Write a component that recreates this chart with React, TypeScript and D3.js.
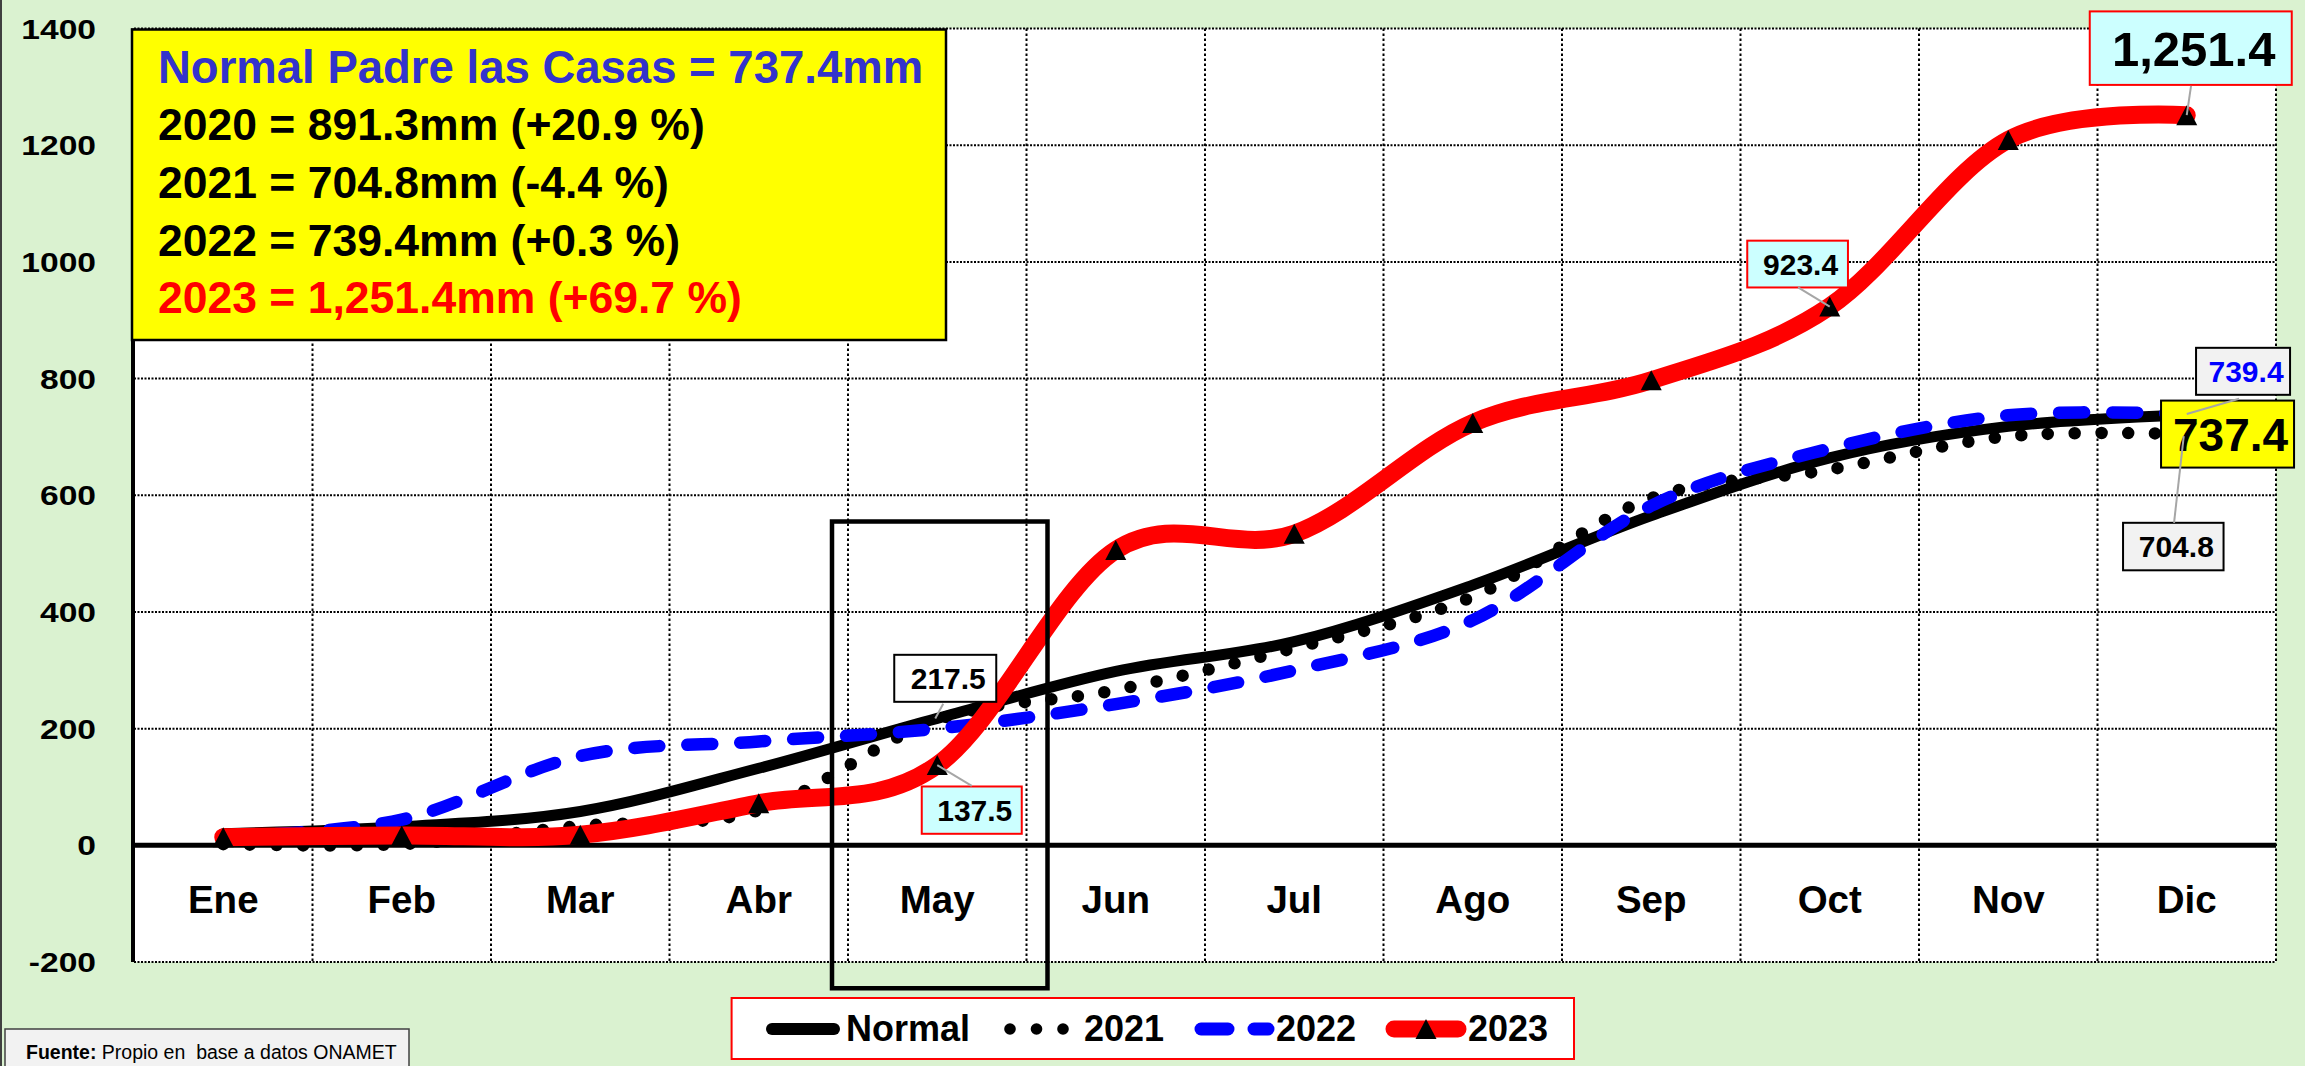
import React from 'react';
import * as d3 from 'd3';

const months = ['Ene', 'Feb', 'Mar', 'Abr', 'May', 'Jun', 'Jul', 'Ago', 'Sep', 'Oct', 'Nov', 'Dic'];
const normal = [20, 32, 58, 132, 217.5, 298, 349, 446, 565, 664, 718, 737.4];
const y2021 = [2, 2, 33, 60, 215, 266, 338, 426, 595, 644, 701, 704.8];
const y2022 = [15, 44, 153, 178, 200, 242, 300, 386, 582, 680, 737, 739.4];
const y2023 = [14, 17, 18, 72, 137.5, 506, 534, 724, 797, 923.4, 1209, 1251.4];
const yTicks = [-200, 0, 200, 400, 600, 800, 1000, 1200, 1400];
const infoLines = [
  { text: 'Normal Padre las Casas = 737.4mm', color: '#3333CC' },
  { text: '2020 = 891.3mm (+20.9 %)', color: '#000000' },
  { text: '2021 = 704.8mm (-4.4 %)', color: '#000000' },
  { text: '2022 = 739.4mm (+0.3 %)', color: '#000000' },
  { text: '2023 = 1,251.4mm (+69.7 %)', color: '#FF0000' },
];
const legendNames = ['Normal', '2021', '2022', '2023'];

const W = 2305;
const H = 1066;
const FONT = '"Liberation Sans", Arial, sans-serif';
const PL = 134, PR = 2276, PT = 28.5, PB = 962;

const x = d3.scaleBand<string>().domain(months).range([PL, PR]).paddingInner(0).paddingOuter(0);
const bw = x.bandwidth();
const cx = (i: number) => (x(months[i]) as number) + bw / 2;
const y = d3.scaleLinear().domain([-200, 1400]).range([PB, PT]);

const line = d3
  .line<number>()
  .x((_, i) => cx(i))
  .y((v) => y(v))
  .curve(d3.curveCardinal.tension(0));

const tri = 'M0,-10 L10.5,10 L-10.5,10 Z';

type Ann = {
  text: string;
  vals: number[];
  i: number;
  box: [number, number, number, number];
  fs: number;
  fill: string;
  stroke: string;
  color: string;
  leader?: [[number, number], [number, number]];
};

const anns: Ann[] = [
  { text: '217.5', vals: normal, i: 4, box: [-43, -63.6, 102, 47], fs: 30, fill: '#FFFFFF', stroke: '#000', color: '#000', leader: [[6, -14.6], [-2, 0]] },
  { text: '137.5', vals: y2023, i: 4, box: [-15.5, 21.4, 100, 47.3], fs: 30, fill: '#CCFFFF', stroke: '#FF0000', color: '#000', leader: [[0, 0], [34.5, 20.7]] },
  { text: '923.4', vals: y2023, i: 9, box: [-82.5, -65.9, 100.7, 46.8], fs: 30, fill: '#CCFFFF', stroke: '#FF0000', color: '#000', leader: [[-31.7, -19.1], [0, 0]] },
  { text: '1,251.4', vals: y2023, i: 11, box: [-97, -103.8, 202, 73.5], fs: 49, fill: '#CCFFFF', stroke: '#FF0000', color: '#000', leader: [[4.3, -29.3], [0, 0]] },
  { text: '739.4', vals: y2022, i: 11, box: [9.3, -66.1, 94, 47], fs: 30, fill: '#F2F2F2', stroke: '#000', color: '#0000FF', leader: [[52.3, -15.1], [0, 0]] },
  { text: '737.4', vals: normal, i: 11, box: [-25.7, -14.5, 133, 67], fs: 46, fill: '#FFFF00', stroke: '#000', color: '#000' },
  { text: '704.8', vals: y2021, i: 11, box: [-63.7, 88.7, 100.5, 47.5], fs: 30, fill: '#F2F2F2', stroke: '#000', color: '#000', leader: [[-12.7, 88.7], [-3, 2]] },
];

export default function App() {
  const hGrid = yTicks.filter((t) => t !== 0);
  const vGrid = months.slice(1).map((m) => x(m) as number).concat([PR]);
  const z = y(0);
  const mayX0 = (x('May') as number) - 16;
  const mayX1 = (x('May') as number) + bw + 21;

  return (
    <svg
      width={W}
      height={H}
      viewBox={`0 0 ${W} ${H}`}
      style={{ position: 'absolute', left: 0, top: 0, display: 'block', fontFamily: FONT }}
    >
      <rect x={0} y={0} width={W} height={H} fill="#DAF2D0" />
      <line x1={1} y1={0} x2={1} y2={H} stroke="#404040" strokeWidth={2} />
      <rect x={PL} y={PT} width={PR - PL} height={PB - PT} fill="#FFFFFF" />

      {/* gridlines */}
      {hGrid.map((t) => (
        <line key={'h' + t} x1={PL} x2={PR} y1={y(t)} y2={y(t)} stroke="#000" strokeWidth={2} strokeDasharray="2 1.5" />
      ))}
      {vGrid.map((gx, k) => (
        <line key={'v' + k} x1={gx} x2={gx} y1={PT} y2={PB} stroke="#000" strokeWidth={2} strokeDasharray="2.5 2.5" />
      ))}

      {/* axes */}
      <line x1={PL} x2={PR} y1={z} y2={z} stroke="#000" strokeWidth={5} />
      <line x1={PL - 1} x2={PL - 1} y1={PT} y2={PB} stroke="#000" strokeWidth={4} />

      {/* y tick labels */}
      {yTicks.map((t) => (
        <g key={'yt' + t} transform={`translate(96,${y(t) + 10})`}>
          <text transform="scale(1.2,1)" textAnchor="end" fontSize={28} fontWeight="bold" fill="#000">
            {t}
          </text>
        </g>
      ))}

      {/* month labels */}
      {months.map((m, i) => (
        <text key={m} x={cx(i)} y={913} textAnchor="middle" fontSize={38.5} fontWeight="bold" fill="#000">
          {m}
        </text>
      ))}

      {/* series */}
      <path d={line(normal) || ''} fill="none" stroke="#000" strokeWidth={11} strokeLinecap="round" />
      <path d={line(y2021) || ''} fill="none" stroke="#000" strokeWidth={12.5} strokeLinecap="round" strokeDasharray="0 26.7" />
      <path d={line(y2022) || ''} fill="none" stroke="#0000FF" strokeWidth={12.5} strokeLinecap="round" strokeDasharray="25 28" />
      <path d={line(y2023) || ''} fill="none" stroke="#FF0000" strokeWidth={18} strokeLinecap="round" />
      {y2023.map((v, i) => (
        <path key={'m' + i} d={tri} transform={`translate(${cx(i)},${y(v)})`} fill="#000" />
      ))}

      {/* May highlight box */}
      <rect x={mayX0} y={y(555)} width={mayX1 - mayX0} height={y(-245) - y(555)} fill="none" stroke="#000" strokeWidth={4.5} />

      {/* data labels */}
      {anns.map((a, k) => {
        const px = cx(a.i);
        const py = y(a.vals[a.i]);
        const [bx, by, bwid, bh] = a.box;
        return (
          <g key={'a' + k}>
            <rect x={px + bx} y={py + by} width={bwid} height={bh} fill={a.fill} stroke={a.stroke} strokeWidth={2} />
            <text
              x={px + bx + bwid / 2 + 3}
              y={py + by + bh / 2 + a.fs * 0.36}
              textAnchor="middle"
              fontSize={a.fs}
              fontWeight="bold"
              fill={a.color}
            >
              {a.text}
            </text>
          </g>
        );
      })}
      {anns
        .filter((a) => a.leader)
        .map((a, k) => {
          const px = cx(a.i);
          const py = y(a.vals[a.i]);
          const [[x1, y1], [x2, y2]] = a.leader!;
          return <line key={'l' + k} x1={px + x1} y1={py + y1} x2={px + x2} y2={py + y2} stroke="#A6A6A6" strokeWidth={2} />;
        })}

      {/* info box */}
      <rect x={132} y={29.5} width={814} height={310.5} fill="#FFFF00" stroke="#000" strokeWidth={2.5} />
      {infoLines.map((l, k) => (
        <text key={'info' + k} x={158} y={82.5 + k * 57.7} fontSize={k === 0 ? 45.5 : 44.5} fontWeight="bold" fill={l.color}>
          {l.text}
        </text>
      ))}

      {/* legend */}
      <rect x={731.6} y={998} width={842.4} height={61} fill="#FFFFFF" stroke="#FF0000" strokeWidth={2} />
      <line x1={772} x2={834} y1={1029} y2={1029} stroke="#000" strokeWidth={12} strokeLinecap="round" />
      <text x={846} y={1040.5} fontSize={36} fontWeight="bold">{legendNames[0]}</text>
      {[1010, 1036.5, 1063].map((dx, k) => (
        <circle key={'ld' + k} cx={dx} cy={1029} r={5.8} fill="#000" />
      ))}
      <text x={1084} y={1040.5} fontSize={36} fontWeight="bold">{legendNames[1]}</text>
      <line x1={1201} x2={1228} y1={1029} y2={1029} stroke="#0000FF" strokeWidth={13} strokeLinecap="round" />
      <line x1={1254} x2={1268} y1={1029} y2={1029} stroke="#0000FF" strokeWidth={13} strokeLinecap="round" />
      <text x={1276} y={1040.5} fontSize={36} fontWeight="bold">{legendNames[2]}</text>
      <line x1={1394} x2={1458} y1={1029} y2={1029} stroke="#FF0000" strokeWidth={17} strokeLinecap="round" />
      <path d={tri} transform="translate(1426,1029)" fill="#000" />
      <text x={1468} y={1040.5} fontSize={36} fontWeight="bold">{legendNames[3]}</text>

      {/* source */}
      <rect x={5} y={1029} width={404} height={50} fill="#F2F2F2" stroke="#404040" strokeWidth={1.5} />
      <text x={26} y={1059} fontSize={19.5} fill="#000" style={{ whiteSpace: 'pre' }}>
        <tspan fontWeight="bold">Fuente:</tspan>
        <tspan>{' Propio en  base a datos ONAMET'}</tspan>
      </text>
    </svg>
  );
}
